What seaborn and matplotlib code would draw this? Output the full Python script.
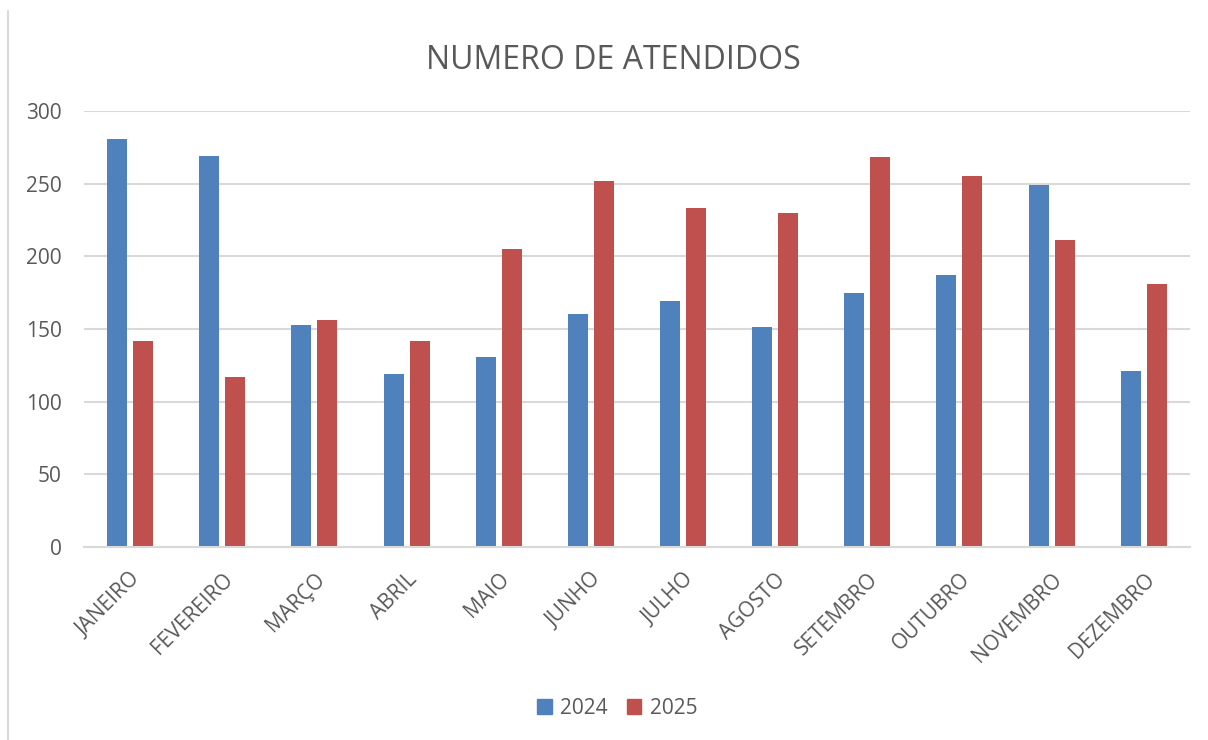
import pandas as pd
import matplotlib
matplotlib.use("Agg")
import matplotlib.pyplot as plt
import seaborn as sns
from matplotlib.lines import Line2D

# data
meses = ["JANEIRO", "FEVEREIRO", "MARÇO", "ABRIL", "MAIO", "JUNHO",
         "JULHO", "AGOSTO", "SETEMBRO", "OUTUBRO", "NOVEMBRO", "DEZEMBRO"]
atendidos_2024 = [281, 269, 153, 119, 131, 160, 169, 151, 175, 187, 249, 121]
atendidos_2025 = [142, 117, 156, 142, 205, 252, 233, 230, 268, 255, 211, 181]
anos = ["2024", "2025"]
cores = ["#4F81BD", "#C0504D"]

df = pd.DataFrame({"mes": meses * 2,
                   "ano": [anos[0]] * 12 + [anos[1]] * 12,
                   "valor": atendidos_2024 + atendidos_2025})

sns.set_style("white")
plt.rcParams["font.family"] = ["Open Sans", "DejaVu Sans"]
texto = "#595959"

fig = plt.figure(figsize=(12.08, 7.40), dpi=100)
ax = fig.add_axes([0.0695, 0.261, 0.9155, 0.589])

sns.barplot(data=df, x="mes", y="valor", hue="ano", palette=cores,
            saturation=1, width=0.564, gap=0.23, linewidth=0,
            ax=ax, legend=False)

ax.set_ylim(0, 300)
ax.set_yticks(range(0, 301, 50))
ax.set_xlim(-0.5, 11.5)
ax.yaxis.grid(True, color="#D9D9D9", linewidth=1.5)
ax.set_axisbelow(True)
for s in ["top", "right", "left"]:
    ax.spines[s].set_visible(False)
ax.spines["bottom"].set_color("#D9D9D9")
ax.spines["bottom"].set_linewidth(1.5)
ax.tick_params(axis="both", length=0, colors=texto, labelsize=15)
ax.tick_params(axis="y", pad=16)
ax.tick_params(axis="x", pad=16)
ax.set_xticks(range(12))
ax.set_xticklabels(meses, rotation=45, ha="right", rotation_mode="anchor")
ax.set_xlabel("")
ax.set_ylabel("")

fig.text(0.508, 0.918, "NUMERO DE ATENDIDOS", ha="center", va="center",
         fontsize=23, color=texto)

handles = [plt.Rectangle((0, 0), 1, 1, color=c) for c in cores]
fig.legend(handles, anos, loc="center", bbox_to_anchor=(0.511, 0.043), ncol=2,
           frameon=False, fontsize=15, labelcolor=texto, handlelength=0.7,
           handleheight=0.7, columnspacing=0.9, handletextpad=0.4)

fig.add_artist(Line2D([0.0066, 0.0066], [0.0, 0.985], color="#D9D9D9",
                      linewidth=1.5, transform=fig.transFigure))

fig.savefig("out.png", dpi=100)
